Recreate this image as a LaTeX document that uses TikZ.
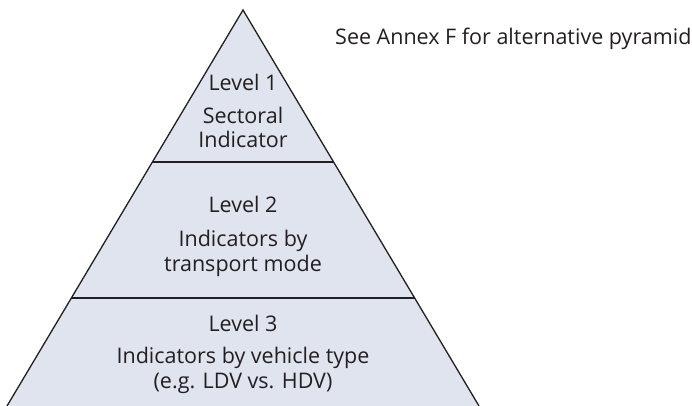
\documentclass[tikz,border=0pt]{standalone}
\usepackage{fontspec}
\setmainfont{Open Sans}
\usepackage{tikz}
\definecolor{pyrfill}{HTML}{DFE4EE}
\definecolor{pyrtext}{HTML}{231F20}

\tikzset{
  lvltitle/.style={anchor=base, text=pyrtext, font=\fontsize{21.5}{24.5}\selectfont},
  lvltext/.style={anchor=base, align=center, text=pyrtext, font=\fontsize{21.5}{24.5}\selectfont}
}

\begin{document}
\begin{tikzpicture}[x=1pt, y=-1pt]
\useasboundingbox (0,0) rectangle (692,406);
% pyramid
\fill[pyrfill] (243,10) -- (479,406) -- (7,406) -- cycle;
\draw[pyrtext, line width=1.3pt] (7,406) -- (243,10) -- (479,406);
\foreach \y in {162, 298}
  \draw[pyrtext, line width=1.3pt] ({243-0.596*(\y-10)},\y) -- ({243+0.596*(\y-10)},\y);
% levels (base = last line)
\node[lvltitle] (lvlone) at (243,91){Level 1};
\node[lvltext] (lvlonetxt) at (243,148){Sectoral\\Indicator};
\node[lvltitle] (lvltwo) at (243,212){Level 2};
\node[lvltext] (lvltwotxt) at (243,271){Indicators by\\transport mode};
\node[lvltitle] (lvlthree) at (243,331){Level 3};
\node[lvltext] (lvlthreetxt) at (243,388){Indicators by vehicle type\\(e.g. LDV vs. HDV)};
\node[lvltitle, anchor=base west, inner sep=0pt] (annex) at (335,45){See Annex F for alternative pyramid};
\end{tikzpicture}
\end{document}
